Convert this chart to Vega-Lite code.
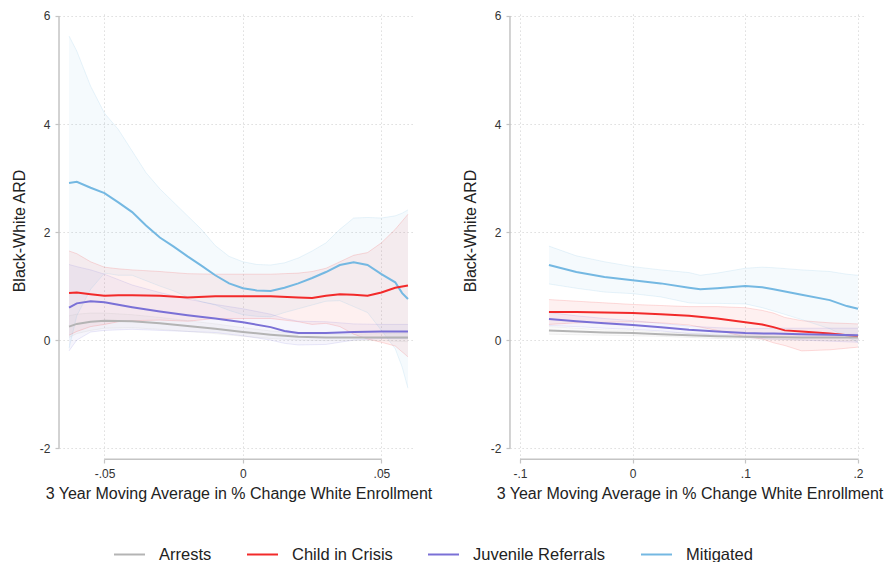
{
  "$schema": "https://vega.github.io/schema/vega-lite/v6.json",
  "padding": {"left": 11, "top": 8, "right": 0, "bottom": 0},
  "background": "white",
  "datasets": {
    "bands": [
      {"p":"L","s":"Mitigated","x":-0.0628,"y":2.91,"lo":-0.15,"hi":5.63},
      {"p":"L","s":"Mitigated","x":-0.06,"y":2.93,"lo":0.45,"hi":5.35},
      {"p":"L","s":"Mitigated","x":-0.055,"y":2.82,"lo":0.94,"hi":4.7},
      {"p":"L","s":"Mitigated","x":-0.05,"y":2.72,"lo":1.24,"hi":4.2},
      {"p":"L","s":"Mitigated","x":-0.045,"y":2.55,"lo":1.2,"hi":3.9},
      {"p":"L","s":"Mitigated","x":-0.04,"y":2.37,"lo":1.2,"hi":3.5},
      {"p":"L","s":"Mitigated","x":-0.035,"y":2.12,"lo":1.1,"hi":3.1},
      {"p":"L","s":"Mitigated","x":-0.03,"y":1.9,"lo":1.0,"hi":2.8},
      {"p":"L","s":"Mitigated","x":-0.025,"y":1.73,"lo":0.91,"hi":2.55},
      {"p":"L","s":"Mitigated","x":-0.02,"y":1.55,"lo":0.8,"hi":2.3},
      {"p":"L","s":"Mitigated","x":-0.015,"y":1.38,"lo":0.71,"hi":2.05},
      {"p":"L","s":"Mitigated","x":-0.01,"y":1.2,"lo":0.65,"hi":1.75},
      {"p":"L","s":"Mitigated","x":-0.005,"y":1.05,"lo":0.55,"hi":1.55},
      {"p":"L","s":"Mitigated","x":0,"y":0.96,"lo":0.47,"hi":1.45},
      {"p":"L","s":"Mitigated","x":0.005,"y":0.92,"lo":0.44,"hi":1.4},
      {"p":"L","s":"Mitigated","x":0.01,"y":0.91,"lo":0.43,"hi":1.39},
      {"p":"L","s":"Mitigated","x":0.015,"y":0.97,"lo":0.51,"hi":1.43},
      {"p":"L","s":"Mitigated","x":0.02,"y":1.05,"lo":0.58,"hi":1.52},
      {"p":"L","s":"Mitigated","x":0.025,"y":1.15,"lo":0.65,"hi":1.65},
      {"p":"L","s":"Mitigated","x":0.03,"y":1.26,"lo":0.72,"hi":1.8},
      {"p":"L","s":"Mitigated","x":0.035,"y":1.39,"lo":0.73,"hi":2.05},
      {"p":"L","s":"Mitigated","x":0.04,"y":1.44,"lo":0.62,"hi":2.26},
      {"p":"L","s":"Mitigated","x":0.045,"y":1.39,"lo":0.51,"hi":2.27},
      {"p":"L","s":"Mitigated","x":0.05,"y":1.22,"lo":0.18,"hi":2.26},
      {"p":"L","s":"Mitigated","x":0.055,"y":1.07,"lo":-0.16,"hi":2.3},
      {"p":"L","s":"Mitigated","x":0.0575,"y":0.87,"lo":-0.5,"hi":2.35},
      {"p":"L","s":"Mitigated","x":0.0596,"y":0.76,"lo":-0.89,"hi":2.41},

      {"p":"L","s":"Child in Crisis","x":-0.0628,"y":0.87,"lo":0.09,"hi":1.65},
      {"p":"L","s":"Child in Crisis","x":-0.06,"y":0.88,"lo":0.16,"hi":1.6},
      {"p":"L","s":"Child in Crisis","x":-0.055,"y":0.85,"lo":0.25,"hi":1.45},
      {"p":"L","s":"Child in Crisis","x":-0.05,"y":0.82,"lo":0.29,"hi":1.35},
      {"p":"L","s":"Child in Crisis","x":-0.045,"y":0.83,"lo":0.34,"hi":1.32},
      {"p":"L","s":"Child in Crisis","x":-0.04,"y":0.83,"lo":0.36,"hi":1.3},
      {"p":"L","s":"Child in Crisis","x":-0.03,"y":0.82,"lo":0.37,"hi":1.27},
      {"p":"L","s":"Child in Crisis","x":-0.02,"y":0.79,"lo":0.35,"hi":1.23},
      {"p":"L","s":"Child in Crisis","x":-0.01,"y":0.81,"lo":0.4,"hi":1.22},
      {"p":"L","s":"Child in Crisis","x":0,"y":0.81,"lo":0.4,"hi":1.22},
      {"p":"L","s":"Child in Crisis","x":0.01,"y":0.81,"lo":0.4,"hi":1.22},
      {"p":"L","s":"Child in Crisis","x":0.02,"y":0.79,"lo":0.34,"hi":1.24},
      {"p":"L","s":"Child in Crisis","x":0.025,"y":0.78,"lo":0.29,"hi":1.27},
      {"p":"L","s":"Child in Crisis","x":0.03,"y":0.82,"lo":0.31,"hi":1.33},
      {"p":"L","s":"Child in Crisis","x":0.035,"y":0.85,"lo":0.25,"hi":1.45},
      {"p":"L","s":"Child in Crisis","x":0.04,"y":0.84,"lo":0.11,"hi":1.57},
      {"p":"L","s":"Child in Crisis","x":0.045,"y":0.82,"lo":0.02,"hi":1.62},
      {"p":"L","s":"Child in Crisis","x":0.05,"y":0.88,"lo":-0.04,"hi":1.8},
      {"p":"L","s":"Child in Crisis","x":0.055,"y":0.97,"lo":-0.11,"hi":2.05},
      {"p":"L","s":"Child in Crisis","x":0.0596,"y":1.01,"lo":-0.31,"hi":2.33},

      {"p":"L","s":"Juvenile Referrals","x":-0.0628,"y":0.6,"lo":-0.2,"hi":1.4},
      {"p":"L","s":"Juvenile Referrals","x":-0.06,"y":0.68,"lo":0.0,"hi":1.36},
      {"p":"L","s":"Juvenile Referrals","x":-0.055,"y":0.72,"lo":0.15,"hi":1.3},
      {"p":"L","s":"Juvenile Referrals","x":-0.05,"y":0.7,"lo":0.18,"hi":1.22},
      {"p":"L","s":"Juvenile Referrals","x":-0.04,"y":0.61,"lo":0.2,"hi":1.02},
      {"p":"L","s":"Juvenile Referrals","x":-0.03,"y":0.53,"lo":0.18,"hi":0.88},
      {"p":"L","s":"Juvenile Referrals","x":-0.02,"y":0.46,"lo":0.16,"hi":0.76},
      {"p":"L","s":"Juvenile Referrals","x":-0.01,"y":0.4,"lo":0.14,"hi":0.66},
      {"p":"L","s":"Juvenile Referrals","x":0,"y":0.33,"lo":0.08,"hi":0.58},
      {"p":"L","s":"Juvenile Referrals","x":0.01,"y":0.24,"lo":0.0,"hi":0.48},
      {"p":"L","s":"Juvenile Referrals","x":0.015,"y":0.17,"lo":-0.06,"hi":0.4},
      {"p":"L","s":"Juvenile Referrals","x":0.02,"y":0.13,"lo":-0.09,"hi":0.35},
      {"p":"L","s":"Juvenile Referrals","x":0.03,"y":0.13,"lo":-0.08,"hi":0.34},
      {"p":"L","s":"Juvenile Referrals","x":0.04,"y":0.15,"lo":0.0,"hi":0.3},
      {"p":"L","s":"Juvenile Referrals","x":0.05,"y":0.16,"lo":0.03,"hi":0.29},
      {"p":"L","s":"Juvenile Referrals","x":0.0596,"y":0.16,"lo":0.03,"hi":0.29},

      {"p":"L","s":"Arrests","x":-0.0628,"y":0.25,"lo":0.05,"hi":0.45},
      {"p":"L","s":"Arrests","x":-0.06,"y":0.3,"lo":0.12,"hi":0.48},
      {"p":"L","s":"Arrests","x":-0.055,"y":0.34,"lo":0.18,"hi":0.5},
      {"p":"L","s":"Arrests","x":-0.05,"y":0.36,"lo":0.22,"hi":0.5},
      {"p":"L","s":"Arrests","x":-0.04,"y":0.35,"lo":0.23,"hi":0.47},
      {"p":"L","s":"Arrests","x":-0.03,"y":0.31,"lo":0.2,"hi":0.42},
      {"p":"L","s":"Arrests","x":-0.02,"y":0.26,"lo":0.16,"hi":0.36},
      {"p":"L","s":"Arrests","x":-0.01,"y":0.21,"lo":0.12,"hi":0.3},
      {"p":"L","s":"Arrests","x":0,"y":0.15,"lo":0.07,"hi":0.23},
      {"p":"L","s":"Arrests","x":0.01,"y":0.1,"lo":0.03,"hi":0.17},
      {"p":"L","s":"Arrests","x":0.02,"y":0.06,"lo":0.0,"hi":0.12},
      {"p":"L","s":"Arrests","x":0.03,"y":0.05,"lo":-0.01,"hi":0.11},
      {"p":"L","s":"Arrests","x":0.04,"y":0.05,"lo":-0.01,"hi":0.11},
      {"p":"L","s":"Arrests","x":0.05,"y":0.05,"lo":-0.01,"hi":0.12},
      {"p":"L","s":"Arrests","x":0.0596,"y":0.05,"lo":-0.03,"hi":0.13},

      {"p":"R","s":"Mitigated","x":-0.0743,"y":1.39,"lo":1.04,"hi":1.74},
      {"p":"R","s":"Mitigated","x":-0.05,"y":1.26,"lo":0.96,"hi":1.56},
      {"p":"R","s":"Mitigated","x":-0.025,"y":1.17,"lo":0.89,"hi":1.45},
      {"p":"R","s":"Mitigated","x":0,"y":1.11,"lo":0.86,"hi":1.36},
      {"p":"R","s":"Mitigated","x":0.025,"y":1.05,"lo":0.8,"hi":1.3},
      {"p":"R","s":"Mitigated","x":0.05,"y":0.97,"lo":0.69,"hi":1.25},
      {"p":"R","s":"Mitigated","x":0.06,"y":0.94,"lo":0.68,"hi":1.2},
      {"p":"R","s":"Mitigated","x":0.075,"y":0.96,"lo":0.68,"hi":1.24},
      {"p":"R","s":"Mitigated","x":0.1,"y":1.0,"lo":0.67,"hi":1.33},
      {"p":"R","s":"Mitigated","x":0.115,"y":0.98,"lo":0.6,"hi":1.35},
      {"p":"R","s":"Mitigated","x":0.125,"y":0.94,"lo":0.54,"hi":1.34},
      {"p":"R","s":"Mitigated","x":0.15,"y":0.84,"lo":0.38,"hi":1.3},
      {"p":"R","s":"Mitigated","x":0.175,"y":0.74,"lo":0.21,"hi":1.27},
      {"p":"R","s":"Mitigated","x":0.19,"y":0.63,"lo":0.06,"hi":1.22},
      {"p":"R","s":"Mitigated","x":0.2,"y":0.58,"lo":-0.04,"hi":1.2},

      {"p":"R","s":"Child in Crisis","x":-0.0743,"y":0.52,"lo":0.29,"hi":0.75},
      {"p":"R","s":"Child in Crisis","x":-0.05,"y":0.52,"lo":0.32,"hi":0.72},
      {"p":"R","s":"Child in Crisis","x":-0.025,"y":0.51,"lo":0.33,"hi":0.69},
      {"p":"R","s":"Child in Crisis","x":0,"y":0.5,"lo":0.34,"hi":0.66},
      {"p":"R","s":"Child in Crisis","x":0.025,"y":0.48,"lo":0.32,"hi":0.64},
      {"p":"R","s":"Child in Crisis","x":0.05,"y":0.45,"lo":0.28,"hi":0.62},
      {"p":"R","s":"Child in Crisis","x":0.075,"y":0.4,"lo":0.18,"hi":0.62},
      {"p":"R","s":"Child in Crisis","x":0.1,"y":0.33,"lo":0.06,"hi":0.6},
      {"p":"R","s":"Child in Crisis","x":0.115,"y":0.29,"lo":0.02,"hi":0.55},
      {"p":"R","s":"Child in Crisis","x":0.125,"y":0.24,"lo":-0.05,"hi":0.5},
      {"p":"R","s":"Child in Crisis","x":0.135,"y":0.18,"lo":-0.1,"hi":0.42},
      {"p":"R","s":"Child in Crisis","x":0.15,"y":0.16,"lo":-0.2,"hi":0.36},
      {"p":"R","s":"Child in Crisis","x":0.175,"y":0.12,"lo":-0.18,"hi":0.32},
      {"p":"R","s":"Child in Crisis","x":0.2,"y":0.07,"lo":-0.13,"hi":0.3},

      {"p":"R","s":"Juvenile Referrals","x":-0.0743,"y":0.39,"lo":0.27,"hi":0.51},
      {"p":"R","s":"Juvenile Referrals","x":-0.05,"y":0.35,"lo":0.25,"hi":0.45},
      {"p":"R","s":"Juvenile Referrals","x":-0.025,"y":0.31,"lo":0.22,"hi":0.4},
      {"p":"R","s":"Juvenile Referrals","x":0,"y":0.28,"lo":0.2,"hi":0.36},
      {"p":"R","s":"Juvenile Referrals","x":0.025,"y":0.24,"lo":0.17,"hi":0.31},
      {"p":"R","s":"Juvenile Referrals","x":0.05,"y":0.19,"lo":0.12,"hi":0.26},
      {"p":"R","s":"Juvenile Referrals","x":0.075,"y":0.16,"lo":0.09,"hi":0.23},
      {"p":"R","s":"Juvenile Referrals","x":0.1,"y":0.13,"lo":0.05,"hi":0.21},
      {"p":"R","s":"Juvenile Referrals","x":0.125,"y":0.12,"lo":0.02,"hi":0.22},
      {"p":"R","s":"Juvenile Referrals","x":0.15,"y":0.11,"lo":0.0,"hi":0.22},
      {"p":"R","s":"Juvenile Referrals","x":0.175,"y":0.1,"lo":-0.02,"hi":0.22},
      {"p":"R","s":"Juvenile Referrals","x":0.2,"y":0.09,"lo":-0.04,"hi":0.22},

      {"p":"R","s":"Arrests","x":-0.0743,"y":0.18,"lo":0.11,"hi":0.25},
      {"p":"R","s":"Arrests","x":-0.05,"y":0.16,"lo":0.1,"hi":0.22},
      {"p":"R","s":"Arrests","x":-0.025,"y":0.14,"lo":0.09,"hi":0.19},
      {"p":"R","s":"Arrests","x":0,"y":0.13,"lo":0.08,"hi":0.18},
      {"p":"R","s":"Arrests","x":0.025,"y":0.11,"lo":0.07,"hi":0.15},
      {"p":"R","s":"Arrests","x":0.05,"y":0.09,"lo":0.05,"hi":0.13},
      {"p":"R","s":"Arrests","x":0.075,"y":0.07,"lo":0.03,"hi":0.11},
      {"p":"R","s":"Arrests","x":0.1,"y":0.06,"lo":0.02,"hi":0.1},
      {"p":"R","s":"Arrests","x":0.15,"y":0.05,"lo":0.0,"hi":0.1},
      {"p":"R","s":"Arrests","x":0.2,"y":0.05,"lo":-0.01,"hi":0.11}
    ],
    "axisL": [{"ax":-0.06642,"ay1":-2,"ay2":6,"bx1":-0.05,"bx2":0.05,"by":-2.204}],
    "axisR": [{"ax":-0.1089,"ay1":-2,"ay2":6,"bx1":-0.1,"bx2":0.2,"by":-2.204}]
  },
  "data": {"name": "bands"},
  "spacing": 29,
  "resolve": {"scale": {"x": "independent"}},
  "hconcat": [
    {
      "width": 355,
      "height": 445,
      "transform": [{"filter": "datum.p === 'L'"}],
      "encoding": {
        "x": {"field": "x", "type": "quantitative",
          "scale": {"domain": [-0.0657, 0.0625], "nice": false, "zero": false},
          "axis": {"values": [-0.05, 0, 0.05], "title": "3 Year Moving Average in % Change White Enrollment",
            "labelExpr": "replace(replace(format(datum.value, '.2~f'), '0.', '.'), '\u2212', '-')"}},
        "color": {"field": "s", "type": "nominal",
          "scale": {"domain": ["Arrests", "Child in Crisis", "Juvenile Referrals", "Mitigated"],
                    "range": ["#b4b4b4", "#f22a2a", "#7a70d6", "#74b8e2"]},
          "legend": {"title": null, "orient": "none", "legendX": 52, "legendY": 530, "direction": "horizontal", "symbolType": "stroke"}}
      },
      "layer": [
        {"mark": {"type": "area", "fillOpacity": 0.07},
         "encoding": {"y": {"field": "lo", "type": "quantitative",
            "scale": {"domain": [-2.09, 6.148], "nice": false, "zero": false},
            "axis": {"values": [-2, 0, 2, 4, 6], "title": "Black-White ARD", "labelExpr": "replace(format(datum.value, 'd'), '\u2212', '-')"}},
           "y2": {"field": "hi"}}},
        {"mark": {"type": "line", "strokeWidth": 0.8, "opacity": 0.2}, "encoding": {"y": {"field": "lo", "type": "quantitative"}}},
        {"mark": {"type": "line", "strokeWidth": 0.8, "opacity": 0.2}, "encoding": {"y": {"field": "hi", "type": "quantitative"}}},
        {"mark": {"type": "line", "strokeWidth": 2}, "encoding": {"y": {"field": "y", "type": "quantitative"}}},
        {"data": {"name": "axisL"}, "mark": {"type": "rule", "strokeWidth": 1.5},
         "encoding": {"x": {"field": "ax", "type": "quantitative"}, "y": {"field": "ay1", "type": "quantitative"}, "y2": {"field": "ay2"}, "color": {"value": "#c4c4c4"}}},
        {"data": {"name": "axisL"}, "mark": {"type": "rule", "strokeWidth": 1.5},
         "encoding": {"x": {"field": "bx1", "type": "quantitative"}, "x2": {"field": "bx2"}, "y": {"field": "by", "type": "quantitative"}, "color": {"value": "#c4c4c4"}}}
      ]
    },
    {
      "width": 355,
      "height": 445,
      "transform": [{"filter": "datum.p === 'R'"}],
      "encoding": {
        "x": {"field": "x", "type": "quantitative",
          "scale": {"domain": [-0.1071, 0.208], "nice": false, "zero": false},
          "axis": {"values": [-0.1, 0, 0.1, 0.2], "title": "3 Year Moving Average in % Change White Enrollment",
            "labelExpr": "replace(replace(format(datum.value, '.2~f'), '0.', '.'), '\u2212', '-')"}},
        "color": {"field": "s", "type": "nominal"}
      },
      "layer": [
        {"mark": {"type": "area", "fillOpacity": 0.07},
         "encoding": {"y": {"field": "lo", "type": "quantitative",
            "scale": {"domain": [-2.09, 6.148], "nice": false, "zero": false},
            "axis": {"values": [-2, 0, 2, 4, 6], "title": "Black-White ARD", "labelExpr": "replace(format(datum.value, 'd'), '\u2212', '-')"}},
           "y2": {"field": "hi"}}},
        {"mark": {"type": "line", "strokeWidth": 0.8, "opacity": 0.2}, "encoding": {"y": {"field": "lo", "type": "quantitative"}}},
        {"mark": {"type": "line", "strokeWidth": 0.8, "opacity": 0.2}, "encoding": {"y": {"field": "hi", "type": "quantitative"}}},
        {"mark": {"type": "line", "strokeWidth": 2}, "encoding": {"y": {"field": "y", "type": "quantitative"}}},
        {"data": {"name": "axisR"}, "mark": {"type": "rule", "strokeWidth": 1.5},
         "encoding": {"x": {"field": "ax", "type": "quantitative"}, "y": {"field": "ay1", "type": "quantitative"}, "y2": {"field": "ay2"}, "color": {"value": "#c4c4c4"}}},
        {"data": {"name": "axisR"}, "mark": {"type": "rule", "strokeWidth": 1.5},
         "encoding": {"x": {"field": "bx1", "type": "quantitative"}, "x2": {"field": "bx2"}, "y": {"field": "by", "type": "quantitative"}, "color": {"value": "#c4c4c4"}}}
      ]
    }
  ],
  "config": {
    "font": "Liberation Sans",
    "view": {"stroke": null},
    "axis": {
      "domain": false,
      "grid": true,
      "gridColor": "#d4d4d4",
      "gridDash": [1.2, 2.8],
      "gridWidth": 1,
      "tickColor": "#c4c4c4",
      "tickSize": 4,
      "tickWidth": 1.2,
      "labelFont": "Liberation Sans",
      "labelFontSize": 12,
      "labelColor": "#333333",
      "titleFont": "Liberation Sans",
      "titleFontSize": 16,
      "titleFontWeight": "normal",
      "titleColor": "#222222"
    },
    "axisX": {"offset": 6, "labelPadding": 5, "titlePadding": 6, "labelFlush": false},
    "axisY": {"offset": 2, "labelPadding": 5, "titlePadding": 12, "labelFlush": false},
    "legend": {
      "labelFont": "Liberation Sans",
      "labelFontSize": 16.5,
      "labelColor": "#222222",
      "symbolSize": 961,
      "symbolStrokeWidth": 2,
      "symbolOpacity": 1,
      "labelOffset": 13,
      "columnPadding": 31
    }
  }
}
